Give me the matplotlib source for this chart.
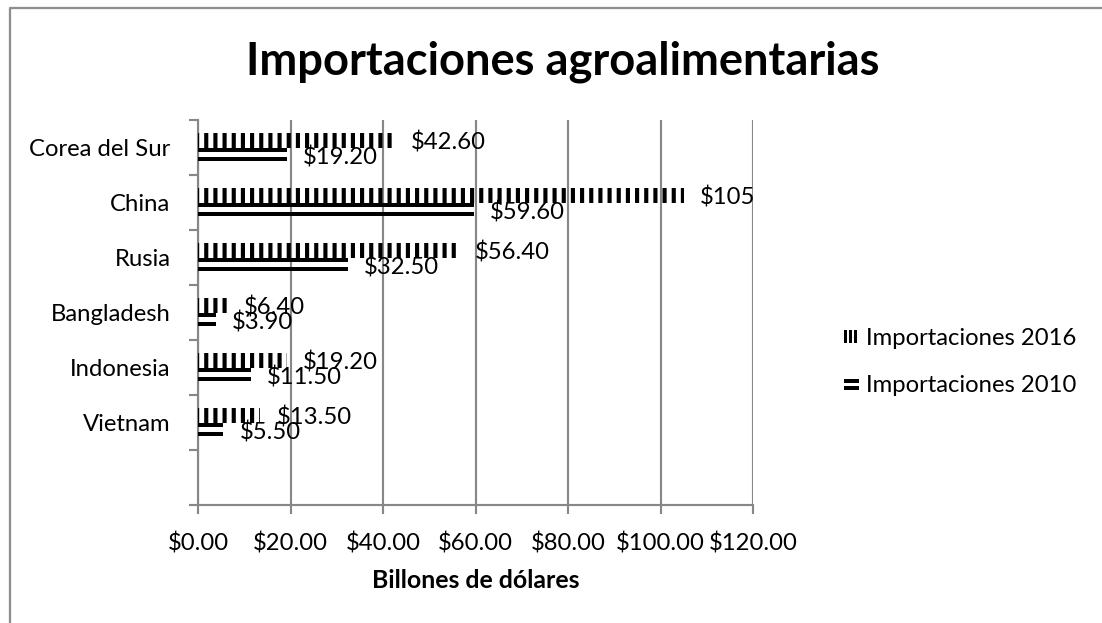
import matplotlib
matplotlib.use("Agg")
import matplotlib.pyplot as plt
import numpy as np
from matplotlib.patches import Rectangle, Patch
from matplotlib.lines import Line2D
from matplotlib.legend_handler import HandlerBase

# ---------------- data ----------------
categories = ["Corea del Sur", "China", "Rusia", "Bangladesh", "Indonesia", "Vietnam", ""]
imp_2016 = [42.6, 105, 56.4, 6.4, 19.2, 13.5]
imp_2010 = [19.2, 59.6, 32.5, 3.9, 11.5, 5.5]
series_names = ["Importaciones 2016", "Importaciones 2010"]
xticks = [0, 20, 40, 60, 80, 100, 120]
xtick_labels = ["\\$0.00", "\\$20.00", "\\$40.00", "\\$60.00", "\\$80.00", "\\$100.00", "\\$120.00"]
title = "Importaciones agroalimentarias"
xlabel = "Billones de dólares"

# ---------------- style ----------------
W, H, DPI = 1102, 623, 110
plt.rcParams["font.family"] = ["Lato", "DejaVu Sans"]
plt.rcParams["hatch.linewidth"] = 2.7
GREY = "#878787"
FS = 15.6


def fmt(v):
    if float(v).is_integer():
        return "\\$%d" % v
    return "\\$%.2f" % v


fig = plt.figure(figsize=(W / DPI, H / DPI), dpi=DPI)
fig.patch.set_facecolor("white")
ax = fig.add_axes([198 / W, 1 - 505 / H, (753 - 198) / W, (505 - 120) / H])

y = np.arange(len(imp_2016))
off16, h16 = -0.136, 0.273
off10a, off10b, h10 = 0.045, 0.209, 0.073

ax.barh(y + off16, imp_2016, height=h16, facecolor="none", edgecolor="black",
        hatch="||", linewidth=0, zorder=3)
ax.barh(y + off10a, imp_2010, height=h10, color="black", linewidth=0, zorder=3)
ax.barh(y + off10b, imp_2010, height=h10, color="black", linewidth=0, zorder=3)

for i, v in enumerate(imp_2016):
    ax.annotate(fmt(v), xy=(v, i + off16), xytext=(10.5, -1.5), textcoords="offset points",
                ha="left", va="center", fontsize=FS, color="black", zorder=4)
for i, v in enumerate(imp_2010):
    ax.annotate(fmt(v), xy=(v, i + (off10a + off10b) / 2), xytext=(10.5, -2),
                textcoords="offset points", ha="left", va="center", fontsize=FS,
                color="black", zorder=4)

ax.set_xlim(0, 120)
ax.set_ylim(len(categories) - 0.5, -0.5)

ax.set_xticks(xticks)
ax.set_xticklabels(xtick_labels, fontsize=FS)
ax.set_yticks(np.arange(-0.5, len(categories), 1.0))
ax.set_yticklabels([])
ax.set_yticks(np.arange(len(categories)), minor=True)
ax.set_yticklabels(categories, minor=True, fontsize=FS)

ax.tick_params(axis="x", which="major", direction="out", length=5.9, width=1.4,
               color=GREY, pad=12)
ax.tick_params(axis="y", which="major", direction="out", length=5.9, width=1.4,
               color=GREY)
ax.tick_params(axis="y", which="minor", length=0, pad=18)

ax.xaxis.grid(True, color=GREY, linewidth=1.4)
ax.set_axisbelow(True)
for s in ["top", "right"]:
    ax.spines[s].set_visible(False)
for s in ["left", "bottom"]:
    ax.spines[s].set_color(GREY)
    ax.spines[s].set_linewidth(1.4)

ax.set_xlabel(xlabel, fontsize=16.3, fontweight="bold")
ax.xaxis.set_label_coords(0.5, (505 - 581) / 385)
ax.xaxis.label.set_va("center")

fig.text(563 / W, 1 - 62 / H, title, ha="center", va="center",
         fontsize=29.6, fontweight="bold")


# ---------------- legend ----------------
class VBarsHandler(HandlerBase):
    def create_artists(self, legend, orig_handle, xdescent, ydescent, width, height,
                       fontsize, trans):
        arts = []
        n = 3
        step = width / n
        for k in range(n):
            r = Rectangle((-xdescent + k * step, -ydescent), step * 0.5, height,
                          facecolor="black", edgecolor="none", transform=trans)
            arts.append(r)
        return arts


class DoubleLineHandler(HandlerBase):
    def create_artists(self, legend, orig_handle, xdescent, ydescent, width, height,
                       fontsize, trans):
        arts = []
        for fy in (0.05, 0.55):
            r = Rectangle((-xdescent, -ydescent + fy * height), width, height * 0.28,
                          facecolor="black", edgecolor="none", transform=trans)
            arts.append(r)
        return arts


hA = Patch(facecolor="black")
hB = Patch(facecolor="black")
fig.legend([hA, hB], series_names, loc="center left",
           bbox_to_anchor=(823 / W, 1 - 362 / H), frameon=False, fontsize=FS,
           handlelength=0.62, handleheight=0.5, handletextpad=0.28, labelspacing=1.1,
           handler_map={hA: VBarsHandler(), hB: DoubleLineHandler()})

# outer chart frame (left and top edges visible)
fig.add_artist(Line2D([10 / W, 10 / W, 1.0], [0.0, 1 - 8 / H, 1 - 8 / H],
                      transform=fig.transFigure, color="#8e8e8e", linewidth=1.5))

fig.savefig("out.png", dpi=DPI)
